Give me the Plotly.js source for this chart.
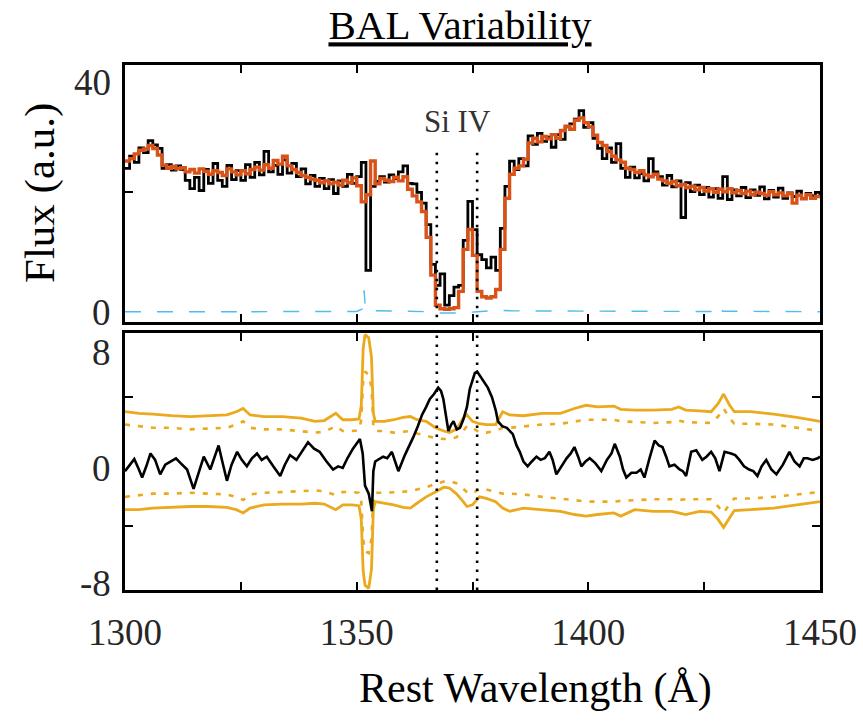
<!DOCTYPE html>
<html>
<head>
<meta charset="utf-8">
<script src="https://cdn.plot.ly/plotly-3.0.1.min.js"></script>
<style>html,body{margin:0;padding:0;background:#fff;}#chart{width:863px;height:726px;}</style>
</head>
<body>
<div id="chart"></div>
<script>
// ---------- data ----------
const specWave = [1300,1301,1302,1303,1304,1305,1306,1307,1308,1309,1310,1311,1312,1313,1314,1315,1316,1317,1318,1319,
1320,1321,1322,1323,1324,1325,1326,1327,1328,1329,1330,1331,1332,1333,1334,1335,1336,1337,1338,1339,
1340,1341,1342,1343,1344,1345,1346,1347,1348,1349,1350,1351,1352,1353,1354,1355,1356,1357,1358,1359,
1360,1361,1362,1363,1364,1365,1366,1367,1368,1369,1370,1371,1372,1373,1374,1375,1376,1377,1378,1379,
1380,1381,1382,1383,1384,1385,1386,1387,1388,1389,1390,1391,1392,1393,1394,1395,1396,1397,1398,1399,
1400,1401,1402,1403,1404,1405,1406,1407,1408,1409,1410,1411,1412,1413,1414,1415,1416,1417,1418,1419,
1420,1421,1422,1423,1424,1425,1426,1427,1428,1429,1430,1431,1432,1433,1434,1435,1436,1437,1438,1439,
1440,1441,1442,1443,1444,1445,1446,1447,1448,1449,1450];

const fluxEpoch1 = [24.0,26.0,25.0,27.4,26.6,28.6,27.9,27.3,24.0,24.6,23.7,24.4,23.8,22.0,20.6,22.5,20.3,23.8,21.5,24.8,
22.0,21.0,24.5,22.1,23.6,22.0,24.6,22.5,25.0,22.9,26.8,23.4,24.5,23.0,25.4,23.2,24.8,22.6,23.9,21.4,
22.8,21.0,22.3,20.6,22.1,19.8,21.9,21.0,23.0,21.5,22.6,25.0,7.0,21.0,21.8,22.6,21.7,22.9,22.3,23.4,
24.4,21.5,21.4,20.0,18.2,14.6,8.0,4.5,6.4,1.2,2.8,4.2,4.5,12.0,18.5,13.8,9.6,8.8,7.4,9.2,
7.0,14.0,21.0,25.2,23.8,25.6,24.4,29.4,28.0,29.8,28.5,29.2,27.5,29.6,28.8,30.9,31.4,32.2,33.6,30.8,
31.6,29.0,27.3,25.6,27.4,25.0,28.1,24.0,22.5,24.2,22.4,23.1,21.9,25.6,23.4,22.6,21.2,22.8,20.9,21.9,
15.8,21.6,20.1,21.2,19.6,20.8,19.2,20.6,19.0,22.6,18.8,20.4,19.4,20.8,19.1,20.4,19.5,20.9,18.9,20.3,
19.2,20.7,19.0,19.9,19.3,20.2,19.0,19.8,19.4,20.0,19.3];

const fluxEpoch2 = [25.2,25.6,26.4,27.0,27.2,27.8,27.3,26.2,24.5,24.0,24.3,23.9,24.1,23.4,23.8,23.2,23.9,23.5,23.0,23.6,
23.3,22.8,23.9,23.4,22.9,23.6,23.1,23.8,24.2,23.7,24.6,24.0,25.3,24.7,26.0,24.4,23.8,23.3,22.8,22.5,
22.2,22.0,21.6,21.9,21.4,21.7,21.2,22.0,21.6,22.4,21.1,18.4,19.6,25.2,21.4,22.3,22.0,21.8,22.5,21.9,
22.6,20.5,19.4,18.4,16.8,12.5,6.2,1.2,0.6,0.5,0.6,0.8,3.5,10.5,13.8,9.5,3.5,2.6,2.4,2.6,
3.8,10.5,19.0,23.0,24.0,24.4,25.5,28.2,29.0,28.4,29.3,28.9,29.6,29.0,30.3,31.0,30.5,32.0,32.4,31.6,
30.9,29.5,28.3,27.8,26.8,26.0,25.4,25.0,24.0,23.8,23.3,23.6,22.9,22.6,23.0,22.2,21.9,21.5,21.8,21.1,
21.3,20.8,21.0,20.4,20.8,20.2,20.6,20.0,20.5,20.1,20.6,19.9,20.3,19.8,20.2,19.6,20.0,19.8,19.5,20.1,
19.6,19.9,19.4,19.8,18.2,19.5,18.9,19.6,19.0,19.3,19.0];

const errWave = [1300,1310,1320,1324,1325,1326,1335,1345,1350,1351.3,1351.6,1351.9,1353,1360,1366,1368,1372,1376,1380,1384,1400,1415,1427,1428,1429,1440,1450];
const errFlux = [0.1,0.15,0.1,0.1,0.6,0.1,0.15,0.1,0.15,0.6,3.7,0.6,0.3,0.2,0.1,-0.1,-0.1,0.1,0.35,0.25,0.2,0.15,0.15,1.2,0.2,0.15,0.1];

const diffWave = [1300,1301,1302,1303,1303.7,1304.6,1305.5,1306.5,1307.6,1308.7,1310,1311,1312,1313.4,1314.8,1316,1317,1318.4,1319.3,1320.2,
1321,1322,1323,1324.2,1325.2,1326.3,1327.4,1328.5,1329.5,1330.6,1332,1333.5,1334.5,1335.6,1337,1338.2,1339.5,1340.8,1342,1343.5,
1344.9,1346,1347,1348,1349.2,1350.7,1351.3,1351.8,1352.6,1353.3,1353.6,1354,1355,1355.7,1356.6,1357.6,1358.3,1359,1360.4,1361.3,
1362.2,1363.2,1364.1,1365,1365.8,1366.7,1367.6,1368.2,1368.7,1369.3,1369.8,1370.4,1370.9,1371.6,1372.3,1373,1373.8,1374.4,1374.9,1375.5,
1376,1376.7,1377.3,1378.3,1379.2,1380,1380.5,1381.4,1382.4,1383.1,1383.7,1384.5,1385.2,1386,1386.9,1387.8,1388.8,1389.7,1390.6,1391.6,
1392.3,1393.1,1394.2,1395.3,1396.2,1397,1397.8,1398.5,1399.4,1400.3,1401.5,1402.8,1404,1405,1405.7,1406.8,1407.5,1408.2,1409.3,1410.4,
1411.3,1412.1,1413.2,1414.3,1415.2,1416,1416.8,1417.5,1418.6,1419.7,1420.4,1421.1,1422.2,1423.3,1424.6,1425.5,1426.5,1427.4,1428.3,1429.4,
1430.8,1431.7,1432.6,1433.6,1434.7,1435.6,1436.5,1437.4,1438.4,1439.5,1440.6,1442,1443.4,1444.5,1445.6,1446.5,1447.3,1448.4,1449.5,1450];
const diffFlux = [-0.6,-0.2,0.15,-0.5,-1.0,-0.3,0.5,0.1,-0.8,-0.2,0.0,0.2,-0.1,-0.5,-1.7,-0.6,0.3,-0.5,0.2,1.0,
0.0,-1.2,-0.2,0.6,0.1,-0.3,0.2,0.5,0.1,0.3,-0.3,-0.9,-0.2,0.4,0.1,0.6,1.2,0.8,0.6,0.0,
-0.5,-0.3,-0.4,0.2,0.8,1.4,0.5,-1.5,-2.0,-3.1,-0.6,0.0,0.2,0.3,0.2,0.6,0.0,-0.6,0.4,0.9,
1.5,2.2,2.9,3.4,3.9,4.2,4.6,4.4,3.9,2.8,1.9,2.3,2.5,2.0,2.1,2.6,3.4,4.5,5.0,5.5,
5.6,5.3,5.1,4.6,4.0,3.2,2.5,2.2,2.1,1.9,1.7,1.0,0.6,0.0,-0.3,0.0,0.3,0.1,0.2,0.6,
0.1,-0.8,-0.3,0.2,0.5,0.9,0.3,-0.3,0.0,0.2,-0.1,-0.6,0.1,0.5,1.1,0.3,-0.5,-1.0,-0.7,-0.7,
-0.5,-1.0,0.2,1.3,1.0,0.9,0.3,-0.3,-0.2,-0.5,-0.6,-0.9,0.6,0.7,0.1,0.3,0.6,0.2,-0.6,0.6,
0.5,0.4,0.1,-0.3,-0.5,-0.6,-0.9,-0.3,0.1,-0.5,-0.8,-0.2,0.6,0.0,-0.3,0.2,0.2,0.1,0.2,0.3];

const envWave = [1300,1303,1306,1310,1314,1318,1322,1324,1325.5,1327,1330,1334,1338,1341,1343,1345.5,1347,1349,1350.5,1351,
1351.4,1351.8,1352.6,1353.2,1353.6,1354,1356,1358,1360,1361.6,1363,1365,1367,1368.8,1370,1371.5,1373,1373.8,1375,1376.5,
1378,1380,1381.5,1383,1386,1390,1394,1397,1399.5,1402,1405.5,1407,1410,1414,1418,1419.5,1421,1424,1426.5,1428,
1429.2,1430.5,1431.5,1435,1440,1445,1450];
const sigma2Upper = [3.1,3.0,2.95,2.85,2.8,2.85,2.9,3.1,3.3,2.9,2.8,2.8,2.7,2.5,2.55,3.0,2.6,2.6,2.65,3.5,
7.0,7.9,7.7,6.5,3.0,2.5,2.5,2.6,2.75,2.8,2.6,2.5,2.1,1.9,1.8,2.0,2.7,2.9,2.5,2.35,
2.3,2.3,3.1,2.9,2.85,3.0,3.0,3.3,3.5,3.4,3.45,3.25,3.2,3.2,3.25,3.4,3.2,3.15,3.1,3.6,
4.2,3.5,3.1,3.1,2.95,2.75,2.5];
const sigma1Upper = [2.3,2.2,2.1,2.1,2.0,2.05,2.1,2.3,2.5,2.1,2.0,2.0,1.9,1.8,1.85,2.2,1.9,1.9,1.95,2.6,
5.0,5.6,5.4,4.6,2.2,1.9,1.9,1.8,1.85,1.9,1.75,1.6,1.45,1.4,1.4,1.5,1.9,2.2,2.1,1.8,
1.8,1.9,2.1,2.1,2.2,2.3,2.35,2.5,2.6,2.6,2.6,2.5,2.45,2.4,2.45,2.55,2.45,2.4,2.4,2.8,
3.3,2.7,2.35,2.35,2.3,2.1,1.9];
const sigma1Lower = [-2.2,-2.1,-2.0,-2.0,-1.95,-2.0,-2.05,-2.2,-2.4,-2.05,-1.95,-1.9,-1.85,-1.8,-1.85,-2.1,-1.9,-1.9,-1.95,-2.5,
-4.8,-5.6,-5.7,-4.8,-2.2,-1.95,-1.95,-1.9,-1.85,-1.85,-1.75,-1.6,-1.4,-1.25,-1.2,-1.35,-1.7,-1.9,-2.0,-1.7,
-1.75,-1.9,-2.0,-2.0,-2.05,-2.2,-2.3,-2.4,-2.5,-2.5,-2.5,-2.45,-2.4,-2.35,-2.35,-2.4,-2.35,-2.35,-2.35,-2.8,
-3.2,-2.65,-2.3,-2.3,-2.2,-2.05,-1.9];
const sigma2Lower = [-3.0,-3.0,-2.9,-2.85,-2.8,-2.8,-2.85,-3.0,-3.2,-2.9,-2.7,-2.65,-2.65,-2.6,-2.65,-3.0,-2.7,-2.7,-2.75,-3.6,
-6.8,-7.7,-7.9,-6.7,-3.0,-2.5,-2.6,-2.7,-2.85,-2.9,-2.6,-2.2,-1.9,-1.6,-1.65,-2.0,-2.5,-2.8,-2.7,-2.2,
-2.3,-2.5,-2.9,-3.1,-2.9,-3.0,-3.1,-3.3,-3.4,-3.3,-3.2,-3.4,-3.0,-3.1,-3.1,-3.2,-3.3,-3.1,-3.15,-3.6,
-4.1,-3.5,-3.05,-3.0,-2.9,-2.7,-2.5];

const markerWaves = [1367.3, 1376.0];
const markerTopFlux = 26.6;
const lineLabel = 'Si IV';
const xTickVals = [1300,1325,1350,1375,1400,1425,1450];
const xTickText = ['1300','','1350','','1400','','1450'];
const topYLabels = ['40','0'];
const bottomYLabels = ['8','0','-8'];

// ---------- styles ----------
const SERIF = 'Liberation Serif, Times New Roman, serif';
const ORANGE_TOP = '#D95319';
const ORANGE_BOT = '#EBA91E';
const BLUE = '#4DBEEE';

const traces = [
  {x: errWave, y: errFlux, xaxis:'x', yaxis:'y', mode:'lines',
   line:{color:BLUE, width:1.4, dash:'16px,16px'}, hoverinfo:'skip'},
  {x: specWave, y: fluxEpoch1, xaxis:'x', yaxis:'y', mode:'lines',
   line:{color:'#000', width:2.8, shape:'hv'}},
  {x: specWave, y: fluxEpoch2, xaxis:'x', yaxis:'y', mode:'lines',
   line:{color:ORANGE_TOP, width:3.4, shape:'hv'}},
  {x: envWave, y: sigma1Upper, xaxis:'x2', yaxis:'y2', mode:'lines',
   line:{color:ORANGE_BOT, width:2.6, dash:'5px,8px'}},
  {x: envWave, y: sigma1Lower, xaxis:'x2', yaxis:'y2', mode:'lines',
   line:{color:ORANGE_BOT, width:2.6, dash:'5px,8px'}},
  {x: envWave, y: sigma2Upper, xaxis:'x2', yaxis:'y2', mode:'lines',
   line:{color:ORANGE_BOT, width:2.8}},
  {x: envWave, y: sigma2Lower, xaxis:'x2', yaxis:'y2', mode:'lines',
   line:{color:ORANGE_BOT, width:2.8}},
  {x: diffWave, y: diffFlux, xaxis:'x2', yaxis:'y2', mode:'lines',
   line:{color:'#000', width:2.6}}
];

const axisCommon = {
  showline:true, linecolor:'#000', linewidth:2.6, mirror:'ticks',
  ticks:'inside', ticklen:8, tickwidth:2, tickcolor:'#000',
  showgrid:false, zeroline:false, fixedrange:true
};

const shapes = [];
markerWaves.forEach(w => {
  shapes.push({type:'line', xref:'x', yref:'y', x0:w, x1:w, y0:markerTopFlux, y1:-1.6,
    line:{color:'#000', width:2.6, dash:'2.6px,6.4px'}, layer:'above'});
  shapes.push({type:'line', xref:'x2', yref:'y2 domain', x0:w, x1:w, y0:0, y1:1,
    line:{color:'#000', width:2.6, dash:'2.6px,6.4px'}, layer:'above'});
});

const H = 726, T = 65, B = 136, PH = H - T - B;
const py = p => 1 - (p - T) / PH;   // pixel row -> paper y
const tickFont = {family:SERIF, size:37, color:'#262626'};
const annotations = [];
[[topYLabels[0], 82], [topYLabels[1], 312], [bottomYLabels[0], 352], [bottomYLabels[1], 468], [bottomYLabels[2], 583]]
  .forEach(([t, p]) => annotations.push({text:t, xref:'paper', yref:'paper', x:0, y:py(p),
    xanchor:'right', yanchor:'middle', xshift:-12, showarrow:false, font:tickFont}));
annotations.push({text:'Flux (a.u.)', xref:'paper', yref:'paper', x:0, y:py(193), xshift:-(125-40),
  xanchor:'center', yanchor:'middle', textangle:-90, showarrow:false,
  font:{family:SERIF, size:43, color:'#000'}});
annotations.push({text:'Rest Wavelength (Å)', xref:'paper', yref:'paper', x:(535-125)/695, y:py(688),
  xanchor:'center', yanchor:'middle', showarrow:false, font:{family:SERIF, size:42, color:'#000'}});
annotations.push({text:lineLabel, xref:'paper', yref:'paper', x:(457-125)/695, y:py(121),
  xanchor:'center', yanchor:'middle', showarrow:false, font:{family:SERIF, size:31, color:'#333'}});

const layout = {
  width:863, height:726,
  margin:{l:125, r:43, t:T, b:B},
  paper_bgcolor:'#fff', plot_bgcolor:'#fff',
  showlegend:false,
  title:{text:'<u>BAL Variability</u>', xref:'container', yref:'container', x:460/863, y:1-25/726,
    xanchor:'center', yanchor:'middle', font:{family:SERIF, size:41, color:'#000'}},
  xaxis:Object.assign({}, axisCommon, {anchor:'y', domain:[0,1], range:[1300,1450], tickvals:xTickVals, showticklabels:false}),
  yaxis:Object.assign({}, axisCommon, {anchor:'x', domain:[(590-322)/PH, 1], range:[-1.6,41.2], tickvals:[20], showticklabels:false, mirror:true}),
  xaxis2:Object.assign({}, axisCommon, {anchor:'y2', domain:[0,1], range:[1300,1450], tickvals:xTickVals, ticktext:xTickText,
    tickfont:tickFont, ticklabelstandoff:8}),
  yaxis2:Object.assign({}, axisCommon, {anchor:'x2', domain:[0, (590-333)/PH], range:[-8,8], tickvals:[-4,4], showticklabels:false}),
  shapes:shapes,
  annotations:annotations
};

Plotly.newPlot('chart', traces, layout, {displayModeBar:false, staticPlot:true});
</script>
</body>
</html>
